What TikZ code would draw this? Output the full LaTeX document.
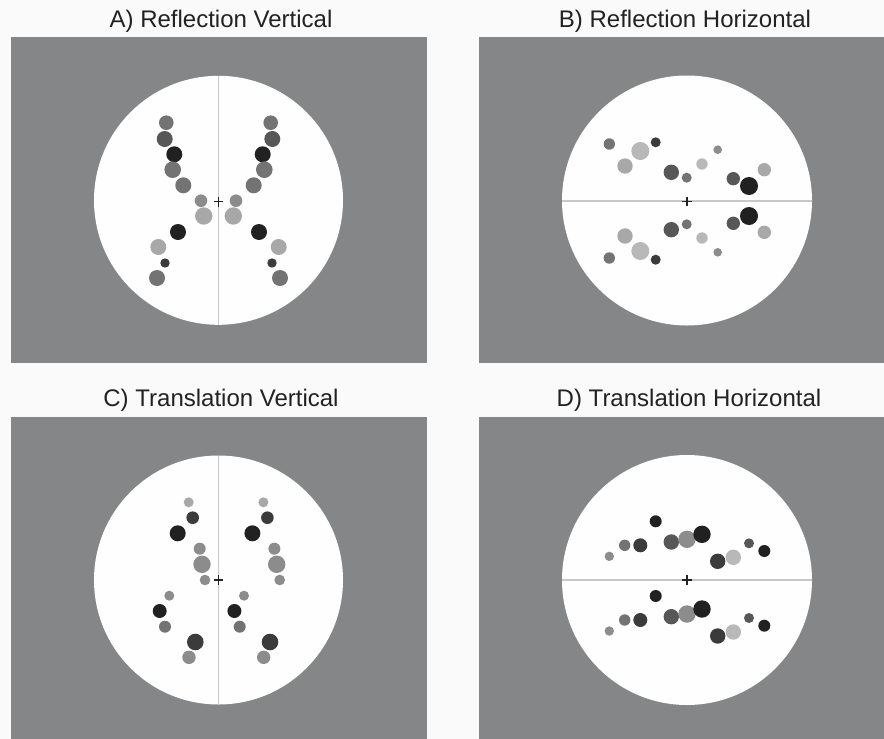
\documentclass[tikz,border=0pt]{standalone}
\usepackage{fontspec}
\setmainfont{Liberation Sans}
\definecolor{pagebg}{RGB}{250,250,250}
\definecolor{panelgray}{RGB}{133,134,136}
\definecolor{disk}{RGB}{254,254,254}
\definecolor{axisc}{RGB}{200,200,200}
\definecolor{txt}{RGB}{34,34,34}
\definecolor{cA}{gray}{0.13}
\definecolor{cB}{gray}{0.23}
\definecolor{cC}{gray}{0.34}
\definecolor{cD}{gray}{0.45}
\definecolor{cE}{gray}{0.55}
\definecolor{cF}{gray}{0.66}
\definecolor{cG}{gray}{0.72}
\tikzset{
  panel/.style={fill=panelgray},
  diskst/.style={fill=disk},
  axisline/.style={draw=axisc, line width=1.3pt},
  crossline/.style={draw=txt, line width=1.4pt},
  title/.style={font=\fontsize{24}{28}\selectfont, text=txt, anchor=base, inner sep=0pt}
}
% mirror-vertical dot pair: x y r colour, axis x=218.5
\newcommand{\mvdot}[4]{\fill[#4] (#1,#2) circle (#3pt); \fill[#4] ({437-#1},#2) circle (#3pt);}
% mirror-horizontal dot pair, axis y=201
\newcommand{\mhdot}[4]{\fill[#4] (#1,#2) circle (#3pt); \fill[#4] (#1,{402-#2}) circle (#3pt);}
% translation horizontal pair (shift x)
\newcommand{\tvdot}[4]{\fill[#4] (#1,#2) circle (#3pt); \fill[#4] ({#1+74.7},#2) circle (#3pt);}
% translation vertical pair (shift y)
\newcommand{\thdot}[4]{\fill[#4] (#1,#2) circle (#3pt); \fill[#4] (#1,{#2+74.7}) circle (#3pt);}
\newcommand{\fixcross}[2]{\draw[crossline] ({#1-4.8},#2) -- ({#1+4.8},#2); \draw[crossline] (#1,{#2-4.8}) -- (#1,{#2+4.8});}
\begin{document}
\begin{tikzpicture}[x=1pt,y=-1pt]
\useasboundingbox (0,0) rectangle (884,739);
\fill[pagebg] (0,0) rectangle (884,739);
% panels
\fill[panel] (11,37) rectangle (427,363);
\fill[panel] (479,37) rectangle (884,363);
\fill[panel] (11,417) rectangle (427,739);
\fill[panel] (479,417) rectangle (884,739);
% titles
\node[title] (tA) at (221,27.3) {A) Reflection Vertical};
\node[title] (tB) at (685,27.3) {B) Reflection Horizontal};
\node[title] (tC) at (221,406.7) {C) Translation Vertical};
\node[title] (tD) at (689,406.7) {D) Translation Horizontal};
% disks
\fill[diskst] (218.5,200.3) circle (124.5pt);
\fill[diskst] (687,200.5) circle (125pt);
\fill[diskst] (218.5,580) circle (124.5pt);
\fill[diskst] (687,580) circle (125pt);
% axis lines
\draw[axisline] (218.5,75.8) -- (218.5,324.8);
\draw[axisline] (562,201) -- (812,201);
\draw[axisline] (218.5,455.5) -- (218.5,704.5);
\draw[axisline] (562,580) -- (812,580);
% A dots
\mvdot{166.3}{122.7}{7.3}{cD}
\mvdot{164.7}{139}{8}{cC}
\mvdot{174.3}{154.3}{8}{cA}
\mvdot{172.7}{169.7}{8.3}{cD}
\mvdot{183.3}{185.3}{8}{cD}
\mvdot{201}{200.7}{6.3}{cE}
\mvdot{203.7}{216}{8.7}{cF}
\mvdot{178}{232}{8}{cA}
\mvdot{158.3}{247}{8}{cF}
\mvdot{165}{263}{4.7}{cB}
\mvdot{157}{278}{8}{cD}
% B dots
\mhdot{609.3}{144}{5.7}{cD}
\mhdot{640.3}{151}{9}{cG}
\mhdot{655.7}{142.3}{5}{cB}
\mhdot{625}{166}{7.7}{cF}
\mhdot{671.3}{172.3}{7.7}{cC}
\mhdot{686.7}{177.7}{5}{cD}
\mhdot{702}{164}{5.7}{cG}
\mhdot{717.7}{149.7}{4.3}{cE}
\mhdot{733.3}{178.7}{6.7}{cC}
\mhdot{749}{186}{9}{cA}
\mhdot{764.3}{169.7}{6.7}{cF}
% C dots
\tvdot{188.7}{502.3}{5}{cF}
\tvdot{192.7}{517.7}{6.3}{cB}
\tvdot{177.7}{533.3}{8}{cA}
\tvdot{199.7}{548.7}{6}{cE}
\tvdot{202}{564.3}{8.7}{cE}
\tvdot{205}{580}{5.3}{cE}
\tvdot{169.3}{595.7}{5}{cE}
\tvdot{159.7}{611}{7}{cA}
\tvdot{165}{626.7}{6}{cD}
\tvdot{195.3}{642}{8.3}{cB}
\tvdot{189}{657.3}{6.7}{cE}
% D dots
\thdot{655.7}{521.3}{6}{cA}
\thdot{609.3}{556.3}{4.7}{cE}
\thdot{624.7}{545.3}{5.7}{cD}
\thdot{640.3}{545.3}{7}{cB}
\thdot{671.3}{542}{7.7}{cC}
\thdot{687}{539.3}{8.7}{cE}
\thdot{702}{534.3}{8.7}{cA}
\thdot{717.7}{561.3}{7.7}{cB}
\thdot{733.3}{557.3}{7.7}{cG}
\thdot{749}{543.3}{5}{cC}
\thdot{764.3}{551}{6}{cA}
% fixation crosses
\fixcross{218.5}{201.7}
\fixcross{687}{201.5}
\fixcross{218.5}{580}
\fixcross{687}{580}
\end{tikzpicture}
\end{document}
